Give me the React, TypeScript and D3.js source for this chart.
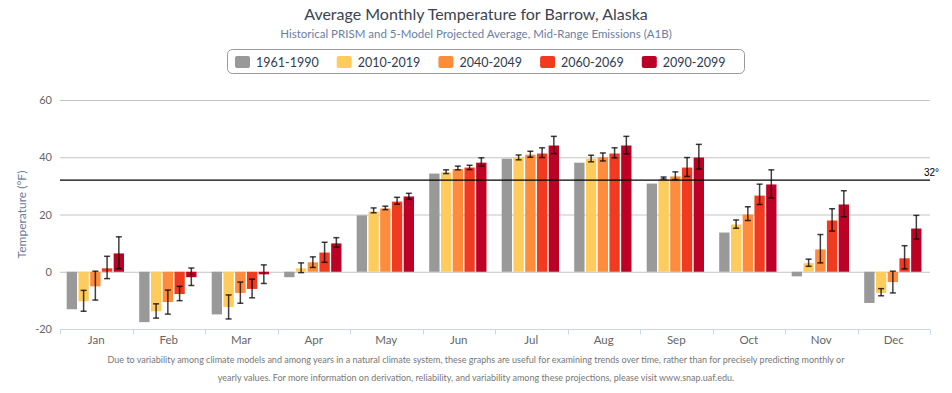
import React, { useRef, useEffect } from 'react';
import * as d3 from 'd3';

const months = ['Jan', 'Feb', 'Mar', 'Apr', 'May', 'Jun', 'Jul', 'Aug', 'Sep', 'Oct', 'Nov', 'Dec'];
const seriesNames = ['1961-1990', '2010-2019', '2040-2049', '2060-2069', '2090-2099'];
const seriesColors = ['#999999', '#fecb5d', '#fd8c3c', '#f03b20', '#bd0026'];

const hist1961 = [-13.1, -17.6, -14.9, -1.9, 19.7, 34.3, 39.5, 38.1, 30.8, 13.7, -1.6, -10.9];

const proj2010 = [-10.3, -13.8, -12.3, 1.2, 21.0, 34.7, 40.0, 39.5, 32.4, 16.5, 3.0, -7.4];
const low2010 = [-13.8, -16.2, -16.5, -0.3, 20.6, 34.3, 39.1, 38.4, 32.4, 15.2, 1.9, -8.4];
const high2010 = [-6.5, -11.2, -8.1, 3.1, 22.3, 35.6, 40.8, 40.7, 33.1, 18.1, 4.4, -5.9];

const proj2040 = [-5.1, -10.6, -7.4, 3.3, 22.1, 35.9, 40.9, 40.0, 33.3, 20.0, 7.8, -3.6];
const low2040 = [-9.9, -14.8, -11.0, 1.5, 21.7, 35.6, 40.0, 38.7, 32.2, 17.9, 3.1, -7.4];
const high2040 = [0.2, -6.4, -3.6, 5.2, 22.9, 36.9, 42.1, 41.5, 34.9, 22.7, 13.0, 0.2];

const proj2060 = [1.2, -7.8, -6.0, 6.7, 24.5, 36.4, 41.3, 41.3, 36.4, 26.6, 17.9, 4.7];
const low2060 = [-2.4, -10.1, -9.1, 3.3, 23.6, 35.7, 39.9, 39.8, 33.3, 23.5, 14.2, 1.0];
const high2060 = [5.4, -5.1, -2.6, 10.3, 26.0, 37.2, 43.3, 43.3, 39.9, 30.6, 22.0, 9.1];

const proj2090 = [6.4, -1.9, -0.9, 9.9, 26.3, 38.1, 44.1, 44.1, 39.9, 30.5, 23.5, 15.1];
const low2090 = [1.1, -4.8, -4.1, 8.6, 25.3, 36.9, 41.3, 41.2, 35.9, 25.8, 19.2, 11.4];
const high2090 = [12.2, 1.3, 2.4, 11.9, 27.4, 39.8, 47.3, 47.3, 44.5, 35.6, 28.3, 19.7];

const yTicks = [-20, 0, 20, 40, 60];
const freezing = 32;

const values = [hist1961, proj2010, proj2040, proj2060, proj2090];
const lows = [null, low2010, low2040, low2060, low2090];
const highs = [null, high2010, high2040, high2060, high2090];

const footnote = [
  'Due to variability among climate models and among years in a natural climate system, these graphs are useful for examining trends over time, rather than for precisely predicting monthly or',
  'yearly values. For more information on derivation, reliability, and variability among these projections, please visit www.snap.uaf.edu.',
];

const W = 952;
const H = 393;
const FONT = 'Lato, "Open Sans", sans-serif';

const App: React.FC = () => {
  const ref = useRef<SVGSVGElement | null>(null);

  useEffect(() => {
    if (!ref.current) return;
    const svg = d3.select(ref.current);
    svg.selectAll('*').remove();

    const margin = { top: 100, right: 22, bottom: 64, left: 60 };
    const x0 = d3.scaleBand<string>().domain(months).range([margin.left, W - margin.right]);
    const step = x0.bandwidth();
    const x1 = d3
      .scaleBand<number>()
      .domain(d3.range(seriesNames.length))
      .range([6.7, step - 8.5])
      .paddingInner(0.12);
    const y = d3.scaleLinear().domain([-20, 60]).range([H - margin.bottom, margin.top]);

    // title
    svg.append('text')
      .attr('x', W / 2).attr('y', 20)
      .attr('text-anchor', 'middle')
      .attr('font-size', 16).attr('fill', '#3b4452')
      .text('Average Monthly Temperature for Barrow, Alaska');
    svg.append('text')
      .attr('x', W / 2).attr('y', 38)
      .attr('text-anchor', 'middle')
      .attr('font-size', 11.5).attr('fill', '#6a80a2')
      .text('Historical PRISM and 5-Model Projected Average, Mid-Range Emissions (A1B)');

    // legend
    const lg = svg.append('g');
    lg.append('rect')
      .attr('x', 227.5).attr('y', 49.5).attr('width', 517).attr('height', 24)
      .attr('rx', 5).attr('fill', '#fff').attr('stroke', '#999');
    seriesNames.forEach((name, i) => {
      const lx = 235 + i * 101.7;
      lg.append('rect')
        .attr('x', lx).attr('y', 56).attr('width', 15).attr('height', 12)
        .attr('rx', 2).attr('fill', seriesColors[i]);
      lg.append('text')
        .attr('x', lx + 21).attr('y', 67)
        .attr('font-size', 12.5).attr('fill', '#2f3b52')
        .text(name);
    });

    // grid
    svg.append('g')
      .selectAll('line')
      .data(yTicks.filter((t) => t !== -20))
      .join('line')
      .attr('x1', margin.left).attr('x2', W - margin.right)
      .attr('y1', (d) => y(d) + 0.5).attr('y2', (d) => y(d) + 0.5)
      .attr('stroke', '#c4c4c4').attr('stroke-width', 1);

    // y axis labels
    svg.append('g')
      .selectAll('text')
      .data(yTicks)
      .join('text')
      .attr('x', 52).attr('y', (d) => y(d) + 4)
      .attr('text-anchor', 'end')
      .attr('font-size', 11).attr('fill', '#666')
      .text((d) => d);

    svg.append('text')
      .attr('transform', `translate(26,${y(20)}) rotate(-90)`)
      .attr('text-anchor', 'middle')
      .attr('font-size', 12).attr('fill', '#6b7b9b')
      .text('Temperature (°F)');

    // x axis
    const xAxis = svg.append('g').attr('transform', `translate(0,${y(-20) + 0.5})`);
    xAxis.append('line')
      .attr('x1', margin.left).attr('x2', W - margin.right)
      .attr('stroke', '#ccd6eb');
    xAxis.selectAll('line.tick')
      .data(d3.range(months.length + 1))
      .join('line')
      .attr('class', 'tick')
      .attr('x1', (i) => Math.round(margin.left + i * step) + 0.5)
      .attr('x2', (i) => Math.round(margin.left + i * step) + 0.5)
      .attr('y1', 0).attr('y2', 5)
      .attr('stroke', '#ccd6eb');
    xAxis.selectAll('text')
      .data(months)
      .join('text')
      .attr('x', (d) => x0(d)! + step / 2)
      .attr('y', 14)
      .attr('text-anchor', 'middle')
      .attr('font-size', 11.5).attr('fill', '#666')
      .text((d) => d);

    // bars
    values.forEach((vals, s) => {
      svg.append('g')
        .selectAll('rect')
        .data(vals)
        .join('rect')
        .attr('x', (_, i) => x0(months[i])! + x1(s)!)
        .attr('width', x1.bandwidth())
        .attr('y', (d) => y(Math.max(0, d)))
        .attr('height', (d) => Math.abs(y(d) - y(0)))
        .attr('fill', seriesColors[s]);
    });

    // error bars
    values.forEach((_, s) => {
      const lo = lows[s];
      const hi = highs[s];
      if (!lo || !hi) return;
      const g = svg.append('g')
        .attr('stroke', '#000')
        .attr('stroke-opacity', 0.75)
        .attr('stroke-width', 1.5);
      lo.forEach((l, i) => {
        const cx = x0(months[i])! + x1(s)! + x1.bandwidth() / 2;
        g.append('line').attr('x1', cx).attr('x2', cx).attr('y1', y(l)).attr('y2', y(hi[i]));
        g.append('line').attr('x1', cx - 3).attr('x2', cx + 3).attr('y1', y(l)).attr('y2', y(l));
        g.append('line').attr('x1', cx - 3).attr('x2', cx + 3).attr('y1', y(hi[i])).attr('y2', y(hi[i]));
      });
    });

    // freezing line
    svg.append('line')
      .attr('x1', margin.left).attr('x2', W - margin.right)
      .attr('y1', y(freezing)).attr('y2', y(freezing))
      .attr('stroke', '#000').attr('stroke-width', 1.3);
    svg.append('text')
      .attr('x', 924).attr('y', y(freezing) - 4)
      .attr('font-size', 10).attr('fill', '#000')
      .attr('font-family', 'Arial, "Liberation Sans", sans-serif')
      .text(`${freezing}°`);

    // footnote
    svg.append('g')
      .selectAll('text')
      .data(footnote)
      .join('text')
      .attr('x', W / 2)
      .attr('y', (_, i) => 363 + i * 18)
      .attr('text-anchor', 'middle')
      .attr('font-size', 9).attr('fill', '#777')
      .text((d) => d);
  }, []);

  return (
    <svg
      ref={ref}
      width={W}
      height={H}
      style={{ position: 'absolute', left: 0, top: 0, fontFamily: FONT, background: '#fff' }}
    />
  );
};

export default App;
